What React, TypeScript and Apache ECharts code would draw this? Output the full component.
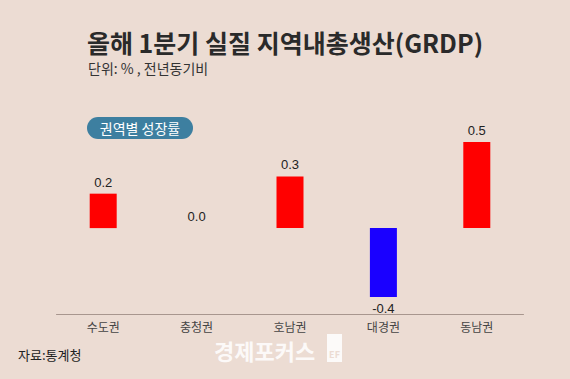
import React, { useEffect, useRef } from "react";
import * as echarts from "echarts";

const categories = ["수도권", "충청권", "호남권", "대경권", "동남권"];
const growth = [0.2, 0.0, 0.3, -0.4, 0.5];
const barColors = ["#FF0000", "#FF0000", "#FF0000", "#1A00FF", "#FF0000"];

const titleText = "올해 1분기 실질 지역내총생산(GRDP)";
const unitText = "단위: % , 전년동기비";
const badgeText = "권역별 성장률";
const sourceText = "자료:통계청";
const watermarkText = "경제포커스";

export default function App() {
  const ref = useRef<HTMLDivElement>(null);
  useEffect(() => {
    if (!ref.current) return;
    const chart = echarts.init(ref.current, null, { renderer: "svg" });
    const font = "'Noto Sans CJK KR', 'Noto Sans', sans-serif";
    const numFont = "'Liberation Sans', Arial, sans-serif";
    chart.setOption({
      animation: false,
      backgroundColor: "#ECDCD3",
      textStyle: { fontFamily: font },
      grid: { left: 56.5, width: 467, top: 142, bottom: 82 },
      xAxis: {
        type: "category",
        data: categories,
        position: "bottom",
        offset: 17,
        axisLine: { show: true, onZero: false, lineStyle: { color: "#A8968E", width: 1 } },
        axisTick: { show: false },
        axisLabel: { color: "#444444", fontSize: 12, margin: 6, fontFamily: font },
      },
      yAxis: { type: "value", min: -0.4, max: 0.5, show: false },
      series: [
        {
          type: "bar",
          barWidth: 27,
          data: growth.map((v, i) => ({
            value: v,
            itemStyle: { color: barColors[i] },
            label: {
              position: v < 0 ? "bottom" : "top",
            },
          })),
          label: {
            show: true,
            color: "#222222",
            fontSize: 13,
            distance: 5,
            fontFamily: numFont,
            formatter: (p: any) => Number(p.value).toFixed(1),
          },
        },
      ],
      graphic: [
        {
          type: "text",
          left: "center",
          top: 29,
          style: {
            text: titleText,
            fontSize: 25,
            fontWeight: "bold",
            fill: "#2A2A2A",
            fontFamily: font,
          },
        },
        {
          type: "text",
          left: 88,
          top: 61,
          style: {
            text: unitText,
            fontSize: 14,
            fill: "#333333",
            fontFamily: font,
          },
        },
        {
          type: "rect",
          shape: { x: 87, y: 117, width: 106, height: 22, r: 11 },
          style: { fill: "#3D7FA0" },
        },
        {
          type: "text",
          x: 140,
          y: 128,
          style: {
            text: badgeText,
            fontSize: 14,
            fill: "#FFFFFF",
            align: "center",
            verticalAlign: "middle",
            fontFamily: font,
          },
        },
        {
          type: "text",
          left: 18,
          top: 348,
          style: {
            text: sourceText,
            fontSize: 13,
            fill: "#222222",
            fontFamily: font,
          },
        },
        {
          type: "text",
          left: 214,
          top: 339,
          style: {
            text: watermarkText,
            fontSize: 22,
            fontWeight: "bold",
            fill: "rgba(255,255,255,0.85)",
            fontFamily: font,
          },
        },
        {
          type: "rect",
          shape: { x: 327, y: 334, width: 15, height: 28 },
          style: { fill: "rgba(255,255,255,0.85)" },
        },
        {
          type: "text",
          x: 334.5,
          y: 354,
          style: {
            text: "EF",
            fontSize: 9,
            fontWeight: "bold",
            fill: "#ECDCD3",
            align: "center",
            verticalAlign: "middle",
            fontFamily: font,
          },
        },
      ],
    });
    return () => chart.dispose();
  }, []);
  return <div ref={ref} style={{ width: 570, height: 379, position: "absolute", left: 0, top: 0 }} />;
}
